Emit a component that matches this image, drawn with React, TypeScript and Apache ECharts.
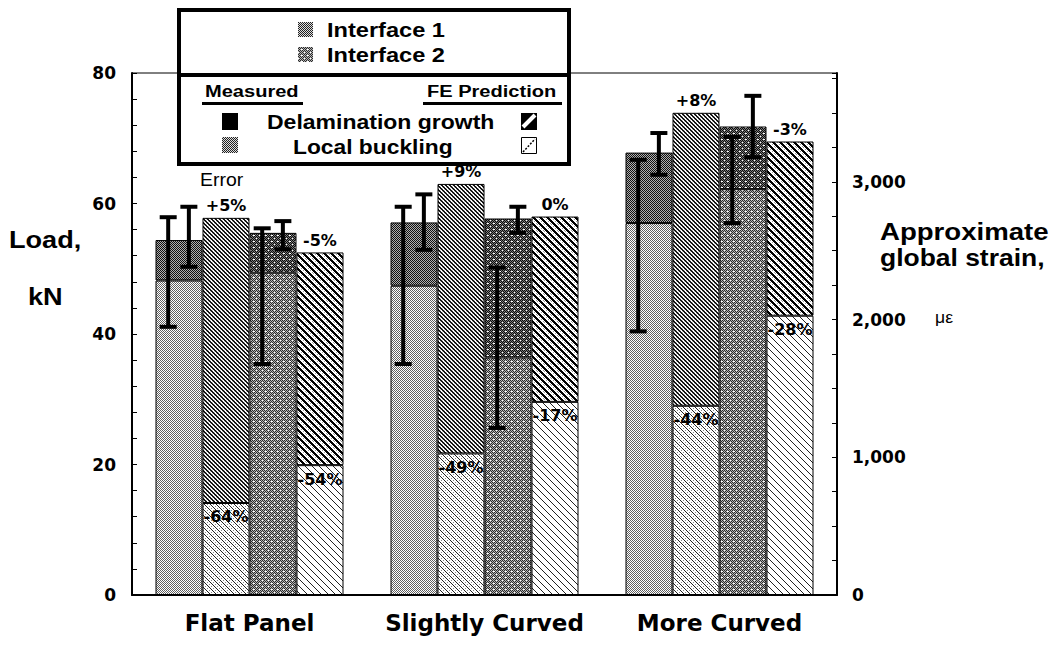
import React, { useEffect, useRef } from 'react';
import * as echarts from 'echarts';

// ---------- data (load, kN) ----------
const categories = ['Flat Panel', 'Slightly Curved', 'More Curved'];

// Measured, Interface 1: local buckling load and delamination growth load
const measLocalI1 = [48.2, 47.4, 57.0];
const measDelamI1 = [54.4, 57.1, 67.8];
// FE prediction, Interface 1
const feLocalI1 = [14.1, 21.7, 29.0];
const feDelamI1 = [57.8, 63.0, 73.9];
// Measured, Interface 2
const measLocalI2 = [49.4, 36.4, 62.2];
const measDelamI2 = [55.5, 57.7, 71.8];
// FE prediction, Interface 2
const feLocalI2 = [19.9, 29.6, 42.8];
const feDelamI2 = [52.5, 58.0, 69.5];

// Measured scatter (error bars)
const errLocalI1Low = [41.1, 35.4, 40.4];
const errLocalI1High = [57.9, 59.5, 66.7];
const errDelamI1Low = [50.3, 52.9, 64.4];
const errDelamI1High = [59.5, 61.4, 70.8];
const errLocalI2Low = [35.4, 25.6, 57.0];
const errLocalI2High = [56.2, 50.2, 70.2];
const errDelamI2Low = [53.0, 55.5, 67.1];
const errDelamI2High = [57.3, 59.5, 76.5];

// FE prediction errors
const feDelamI1Pct = ['+5%', '+9%', '+8%'];
const feDelamI2Pct = ['-5%', '0%', '-3%'];
const feLocalI1Pct = ['-64%', '-49%', '-44%'];
const feLocalI2Pct = ['-54%', '-17%', '-28%'];

// axes
const loadMax = 80;
const loadLabelStep = 20;
const loadTickStep = 4;
const strainMax = 3790;
const strainLabelStep = 1000;
const strainTickStep = 250;

const AXIS_FONT = 'DejaVu Sans';
const TEXT_FONT = 'Liberation Sans';

const mod = (a: number, n: number) => ((a % n) + n) % n;

function makePattern(w: number, h: number, fn: (x: number, y: number) => string) {
  const c = document.createElement('canvas');
  c.width = w;
  c.height = h;
  const ctx = c.getContext('2d')!;
  for (let y = 0; y < h; y++) {
    for (let x = 0; x < w; x++) {
      ctx.fillStyle = fn(x, y);
      ctx.fillRect(x, y, 1, 1);
    }
  }
  return { image: c, repeat: 'repeat', imageWidth: w, imageHeight: h } as any;
}

export default function App() {
  const ref = useRef<HTMLDivElement>(null);

  useEffect(() => {
    const el = ref.current;
    if (!el) return;
    const chart = echarts.init(el, null, { renderer: 'svg' });

    const pMeasLocalI1 = makePattern(2, 2, (x, y) => ((x + y) % 2 === 0 ? '#606060' : '#ffffff'));
    const pMeasDelamI1 = makePattern(2, 2, (x, y) => ((x + y) % 2 === 0 ? '#111111' : '#b0b0b0'));
    const pMeasLocalI2 = makePattern(6, 6, (x, y) => {
      if ((x === 1 && y === 1) || (x === 4 && y === 4) || (x === 2 && y === 1)) return '#ffffff';
      return (x + y) % 2 === 0 ? '#2a2a2a' : '#b5b5b5';
    });
    const pMeasDelamI2 = makePattern(6, 6, (x, y) => {
      if ((x === 1 && y === 1) || (x === 4 && y === 4) || (x === 2 && y === 1)) return '#ffffff';
      return (x + y) % 2 === 0 ? '#0a0a0a' : '#7a7a7a';
    });
    const pFeDelamI1 = makePattern(4, 4, (x, y) => (mod(x - y, 4) < 2 ? '#151515' : (x % 2 === 0 ? '#dddddd' : '#ffffff')));
    const pFeLocalI1 = makePattern(6, 6, (x, y) => {
      const d = mod(x - y, 6);
      if (d === 0) return '#222222';
      if (d === 3 && y % 2 === 0) return '#888888';
      return '#ffffff';
    });
    const pFeDelamI2 = makePattern(7, 7, (x, y) => {
      const d = mod(x - y, 7);
      if (d < 3) return '#000000';
      if (d === 5 && y % 2 === 0) return '#999999';
      return '#ffffff';
    });
    const pFeLocalI2 = makePattern(7, 7, (x, y) => (mod(x - y, 7) === 0 ? '#222222' : '#ffffff'));
    const pLegendChecker = makePattern(2, 2, (x, y) => ((x + y) % 2 === 0 ? '#222222' : '#dddddd'));

    const diff = (top: number[], low: number[]) => top.map((t, i) => +(t - low[i]).toFixed(2));

    const pctFont = { fontFamily: AXIS_FONT, fontWeight: 'bold', fontSize: 16, color: '#000' };

    const bar = (stack: string, data: number[], color: any, label?: any) => ({
      type: 'bar',
      stack,
      data,
      barGap: '0%',
      barCategoryGap: '20%',
      itemStyle: { color, borderColor: '#000', borderWidth: 1 },
      emphasis: { disabled: true },
      label: label || { show: false },
      z: 2,
    });

    const errSeries = (low: number[], high: number[], barIdx: number, frac: number) => ({
      type: 'custom',
      data: low.map((l, i) => [i, l, high[i]]),
      encode: { x: 0, y: [1, 2] },
      z: 10,
      silent: true,
      renderItem: (params: any, api: any) => {
        const cat = api.value(0);
        const top = api.coord([cat, api.value(2)]);
        const bot = api.coord([cat, api.value(1)]);
        const band = api.size([1, 0])[0];
        const bw = (band * 0.8) / 4;
        const x = top[0] - 2 * bw + barIdx * bw + frac * bw;
        const cap = 17;
        const t = 4;
        return {
          type: 'group',
          children: [
            { type: 'rect', shape: { x: x - t / 2, y: top[1], width: t, height: bot[1] - top[1] }, style: { fill: '#000' } },
            { type: 'rect', shape: { x: x - cap / 2, y: top[1] - t / 2, width: cap, height: t }, style: { fill: '#000' } },
            { type: 'rect', shape: { x: x - cap / 2, y: bot[1] - t / 2, width: cap, height: t }, style: { fill: '#000' } },
          ],
        };
      },
    });

    const txt = (text: string, x: number, y: number, size: number, weight = 'bold', scaleX = 1.18, align = 'left') => ({
      type: 'text',
      x,
      y,
      scaleX,
      z: 120,
      style: {
        text,
        fill: '#000',
        fontFamily: TEXT_FONT,
        fontSize: size,
        fontWeight: weight,
        align,
        textAlign: align,
        verticalAlign: 'middle',
        textVerticalAlign: 'middle',
      },
    });

    const option: any = {
      animation: false,
      backgroundColor: '#fff',
      grid: { left: 132, right: 215, top: 73, bottom: 50, show: true, borderColor: '#000', borderWidth: 1, backgroundColor: 'transparent' },
      xAxis: {
        type: 'category',
        data: categories,
        axisTick: { show: false },
        axisLine: { lineStyle: { color: '#000', width: 2 } },
        axisLabel: { interval: 0, fontFamily: AXIS_FONT, fontWeight: 'bold', fontSize: 23, color: '#000', margin: 16 },
      },
      yAxis: [
        {
          type: 'value',
          min: 0,
          max: loadMax,
          interval: loadTickStep,
          position: 'left',
          axisLine: { show: true, lineStyle: { color: '#000', width: 2 } },
          axisTick: { show: true, inside: true, length: 5, lineStyle: { color: '#000', width: 1 } },
          splitLine: { show: false },
          axisLabel: {
            formatter: (v: number) => (v % loadLabelStep === 0 ? String(v) : ''),
            fontFamily: AXIS_FONT, fontWeight: 'bold', fontSize: 17, color: '#000', margin: 16,
          },
        },
        {
          type: 'value',
          min: 0,
          max: strainMax,
          interval: strainTickStep,
          position: 'right',
          axisLine: { show: true, lineStyle: { color: '#000', width: 2 } },
          axisTick: { show: true, inside: true, length: 5, lineStyle: { color: '#000', width: 1 } },
          splitLine: { show: false },
          axisLabel: {
            formatter: (v: number) => (v % strainLabelStep === 0 ? v.toLocaleString('en-US') : ''),
            fontFamily: AXIS_FONT, fontWeight: 'bold', fontSize: 17, color: '#000', margin: 15,
          },
        },
      ],
      series: [
        bar('m1', measLocalI1, pMeasLocalI1),
        bar('m1', diff(measDelamI1, measLocalI1), pMeasDelamI1),
        bar('f1', feLocalI1, pFeLocalI1, { show: true, position: 'insideTop', distance: 6, formatter: (p: any) => feLocalI1Pct[p.dataIndex], ...pctFont }),
        bar('f1', diff(feDelamI1, feLocalI1), pFeDelamI1, { show: true, position: 'top', distance: 4, formatter: (p: any) => feDelamI1Pct[p.dataIndex], ...pctFont }),
        bar('m2', measLocalI2, pMeasLocalI2),
        bar('m2', diff(measDelamI2, measLocalI2), pMeasDelamI2),
        bar('f2', feLocalI2, pFeLocalI2, { show: true, position: 'insideTop', distance: 6, formatter: (p: any) => feLocalI2Pct[p.dataIndex], ...pctFont }),
        bar('f2', diff(feDelamI2, feLocalI2), pFeDelamI2, { show: true, position: 'top', distance: 4, formatter: (p: any) => feDelamI2Pct[p.dataIndex], ...pctFont }),
        errSeries(errLocalI1Low, errLocalI1High, 0, 0.27),
        errSeries(errDelamI1Low, errDelamI1High, 0, 0.71),
        errSeries(errLocalI2Low, errLocalI2High, 2, 0.27),
        errSeries(errDelamI2Low, errDelamI2High, 2, 0.71),
      ],
      graphic: [
        // axis titles
        txt('Load,', 9, 240, 24, 'bold', 1.13),
        txt('kN', 28, 297, 24, 'bold', 1.13),
        txt('Approximate', 880, 232, 23, 'bold', 1.2),
        txt('global strain,', 880, 258, 23, 'bold', 1.15),
        txt('με', 935, 318, 16, 'normal', 1.1),
        txt('Error', 200, 180, 18, 'normal', 1.08),
        // legend box
        { type: 'rect', z: 100, shape: { x: 179, y: 10, width: 390, height: 154 }, style: { fill: '#fff', stroke: '#000', lineWidth: 4 } },
        { type: 'line', z: 101, shape: { x1: 179, y1: 75, x2: 569, y2: 75 }, style: { stroke: '#000', lineWidth: 4 } },
        { type: 'rect', z: 110, shape: { x: 298, y: 22, width: 15, height: 15 }, style: { fill: pLegendChecker } },
        txt('Interface 1', 327, 30, 20),
        { type: 'rect', z: 110, shape: { x: 298, y: 47, width: 15, height: 15 }, style: { fill: pMeasLocalI2 } },
        txt('Interface 2', 327, 55, 20),
        txt('Measured', 205, 91, 17),
        { type: 'rect', z: 110, shape: { x: 202, y: 102, width: 101, height: 3 }, style: { fill: '#000' } },
        txt('FE Prediction', 427, 91, 17),
        { type: 'rect', z: 110, shape: { x: 423, y: 102, width: 139, height: 3 }, style: { fill: '#000' } },
        { type: 'rect', z: 110, shape: { x: 222, y: 113, width: 16, height: 17 }, style: { fill: '#000' } },
        txt('Delamination growth', 267, 122, 20, 'bold', 1.15),
        { type: 'rect', z: 110, shape: { x: 521, y: 113, width: 16, height: 17 }, style: { fill: '#000' } },
        { type: 'line', z: 111, shape: { x1: 523, y1: 127, x2: 535, y2: 115 }, style: { stroke: '#fff', lineWidth: 4 } },
        { type: 'rect', z: 110, shape: { x: 222, y: 137, width: 16, height: 16 }, style: { fill: pLegendChecker } },
        txt('Local buckling', 293, 147, 20, 'bold', 1.14),
        { type: 'rect', z: 110, shape: { x: 521.5, y: 137.5, width: 15, height: 16 }, style: { fill: '#fff', stroke: '#000', lineWidth: 1 } },
        { type: 'line', z: 111, shape: { x1: 523, y1: 152, x2: 535, y2: 139 }, style: { stroke: '#000', lineWidth: 1.5, lineDash: [2, 1.5] } },
      ],
    };

    chart.setOption(option);
    return () => chart.dispose();
  }, []);

  return (
    <div
      ref={ref}
      style={{ position: 'fixed', left: 0, top: 0, width: 1052, height: 645, background: '#fff' }}
    />
  );
}
